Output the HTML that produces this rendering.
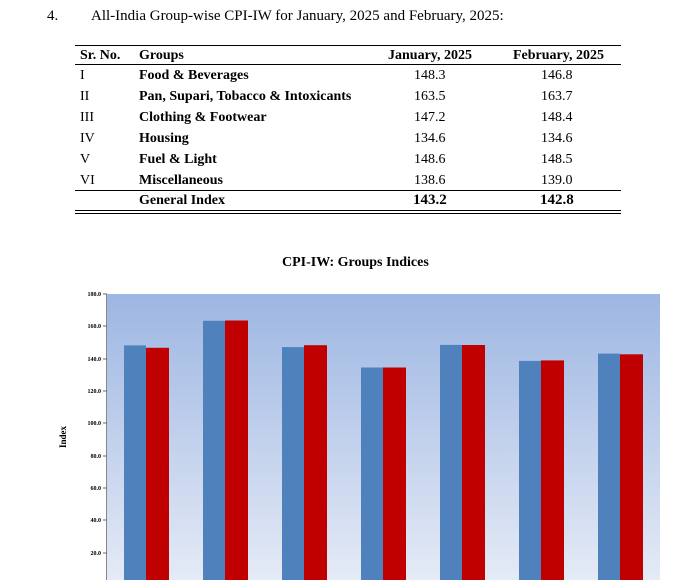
<!DOCTYPE html>
<html><head><style>
body{margin:0;width:698px;height:580px;background:#fff;position:relative;overflow:hidden;font-family:"Liberation Serif",serif;color:#000}
.a{position:absolute;white-space:nowrap}
.b{font-weight:bold}
.ln{position:absolute;background:#000;height:1px}
</style></head><body>
<div class="a" style="left:47px;top:8px;font-size:15px">4.</div>
<div class="a" style="left:91px;top:8px;font-size:15px">All-India Group-wise CPI-IW for January, 2025 and February, 2025:</div>
<div class="ln" style="left:75px;width:546px;top:45px"></div>
<div class="ln" style="left:75px;width:546px;top:64px"></div>
<div class="ln" style="left:75px;width:546px;top:190px"></div>
<div class="ln" style="left:75px;width:546px;top:210px"></div>
<div class="ln" style="left:75px;width:546px;top:213px"></div>
<div class="a b" style="left:80px;top:48px;font-size:14px">Sr. No.</div>
<div class="a b" style="left:139px;top:48px;font-size:14px">Groups</div>
<div class="a b" style="left:388px;top:48px;font-size:14px">January, 2025</div>
<div class="a b" style="left:513px;top:48px;font-size:14px">February, 2025</div>
<div style="position:absolute;left:0;top:68px;font-size:14px">
<div class="a" style="left:80px;top:0">I</div><div class="a b" style="left:139px;top:0">Food &amp; Beverages</div><div class="a" style="left:414px;top:0">148.3</div><div class="a" style="left:541px;top:0">146.8</div>
<div class="a" style="left:80px;top:21px">II</div><div class="a b" style="left:139px;top:21px">Pan, Supari, Tobacco &amp; Intoxicants</div><div class="a" style="left:414px;top:21px">163.5</div><div class="a" style="left:541px;top:21px">163.7</div>
<div class="a" style="left:80px;top:42px">III</div><div class="a b" style="left:139px;top:42px">Clothing &amp; Footwear</div><div class="a" style="left:414px;top:42px">147.2</div><div class="a" style="left:541px;top:42px">148.4</div>
<div class="a" style="left:80px;top:63px">IV</div><div class="a b" style="left:139px;top:63px">Housing</div><div class="a" style="left:414px;top:63px">134.6</div><div class="a" style="left:541px;top:63px">134.6</div>
<div class="a" style="left:80px;top:84px">V</div><div class="a b" style="left:139px;top:84px">Fuel &amp; Light</div><div class="a" style="left:414px;top:84px">148.6</div><div class="a" style="left:541px;top:84px">148.5</div>
<div class="a" style="left:80px;top:105px">VI</div><div class="a b" style="left:139px;top:105px">Miscellaneous</div><div class="a" style="left:414px;top:105px">138.6</div><div class="a" style="left:541px;top:105px">139.0</div>
<div class="a b" style="left:139px;top:125px">General Index</div><div class="a b" style="left:413px;top:124px;font-size:15px">143.2</div><div class="a b" style="left:540px;top:124px;font-size:15px">142.8</div>
</div>
<div class="a b" style="left:282px;top:255px;font-size:14px">CPI-IW: Groups Indices</div>
<svg style="position:absolute;left:0;top:0" width="698" height="580">
<defs><linearGradient id="g" x1="0" y1="0" x2="0" y2="1"><stop offset="0" stop-color="#9db6e2"/><stop offset="1" stop-color="#e8edf7"/></linearGradient></defs>
<rect x="107" y="294" width="553" height="300" fill="url(#g)"/>
<line x1="106.5" y1="294" x2="106.5" y2="580" stroke="#888"/>
<g font-family="Liberation Serif" font-size="6" font-weight="bold" text-anchor="end">
<text x="101" y="296">180.0</text><text x="101" y="328">160.0</text><text x="101" y="361">140.0</text><text x="101" y="393">120.0</text><text x="101" y="425">100.0</text><text x="101" y="458">80.0</text><text x="101" y="490">60.0</text><text x="101" y="522">40.0</text><text x="101" y="555">20.0</text>
</g>
<g stroke="#666"><line x1="103" y1="294" x2="107" y2="294"/><line x1="103" y1="326" x2="107" y2="326"/><line x1="103" y1="359" x2="107" y2="359"/><line x1="103" y1="391" x2="107" y2="391"/><line x1="103" y1="423" x2="107" y2="423"/><line x1="103" y1="456" x2="107" y2="456"/><line x1="103" y1="488" x2="107" y2="488"/><line x1="103" y1="520" x2="107" y2="520"/><line x1="103" y1="553" x2="107" y2="553"/></g>
<text transform="translate(66,437) rotate(-90)" font-family="Liberation Serif" font-size="9" font-weight="bold" text-anchor="middle">Index</text>
<g fill="#4f81bd">
<rect x="124" y="345.4" width="22" height="240"/><rect x="203" y="320.8" width="22" height="270"/><rect x="282" y="347.1" width="22" height="240"/><rect x="361" y="367.5" width="22" height="220"/><rect x="440" y="344.9" width="22" height="240"/><rect x="519" y="360.9" width="22" height="230"/><rect x="598" y="353.6" width="22" height="230"/>
</g>
<g fill="#c00000">
<rect x="146" y="347.8" width="23" height="240"/><rect x="225" y="320.5" width="23" height="270"/><rect x="304" y="345.2" width="23" height="240"/><rect x="383" y="367.5" width="23" height="220"/><rect x="462" y="345.0" width="23" height="240"/><rect x="541" y="360.4" width="23" height="230"/><rect x="620" y="354.3" width="23" height="230"/>
</g>
</svg>
</body></html>
